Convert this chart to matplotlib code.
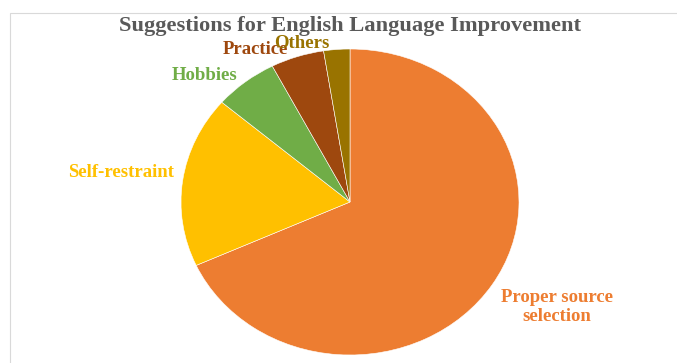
import matplotlib.pyplot as plt
from matplotlib.patches import Rectangle

labels = ['Proper source\nselection', 'Self-restraint', 'Hobbies', 'Practice', 'Others']
values = [68.2, 18.1, 6.1, 5.1, 2.5]
colors = ['#ED7D31', '#FFC000', '#70AD47', '#9E480E', '#997300']
# label positions in axes data units (pie radius = 1)
label_pos = [(1.225, -0.686), (-1.352, 0.196), (-0.861, 0.83), (-0.562, 1.0), (-0.287, 1.039)]

fig = plt.figure(figsize=(6.77, 3.63), dpi=100)
fig.patches.append(Rectangle((10/677, -0.1), 1.1, 1 - 13/363 + 0.1, transform=fig.transFigure,
                             facecolor='white', edgecolor='#D9D9D9', linewidth=0.8, zorder=-5))

ax = fig.add_axes([181/677, 8/363, 338/677, 306/363])
wedges, texts = ax.pie(values, labels=labels, colors=colors, startangle=90, counterclock=False,
                       wedgeprops=dict(edgecolor='white', linewidth=0.4))
ax.set_aspect('auto')
ax.set_xlim(-1, 1)
ax.set_ylim(-1, 1)
for t, c, p in zip(texts, colors, label_pos):
    t.set_position(p)
    t.set_color(c)
    t.set_ha('center')
    t.set_va('center')
    t.set_fontfamily('Liberation Serif')
    t.set_fontweight('bold')
    t.set_fontsize(13.5)
    t.set_linespacing(1.1)
    t.set_clip_on(False)

fig.text(350/677, 1 - 26/363, 'Suggestions for English Language Improvement', ha='center', va='center',
         fontsize=16.2, fontweight='bold', family='Liberation Serif', color='#595959')

fig.savefig('out.png', dpi=100)
